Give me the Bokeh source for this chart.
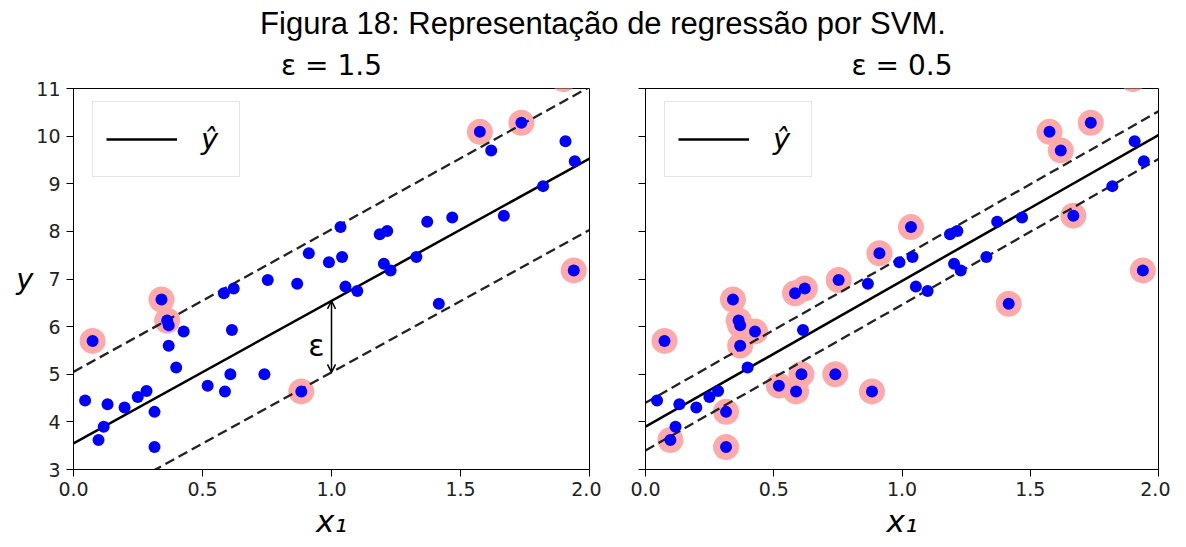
from bokeh.plotting import figure
from bokeh.models import (Range1d, FixedTicker, Label, Arrow, OpenHead, Div,
                          Legend, LegendItem, CustomJSTickFormatter,
                          PrintfTickFormatter)
from bokeh.layouts import column, row
from bokeh.embed import file_html
from bokeh.resources import INLINE

# ---------------- data ----------------
x1 = [0.045, 0.074, 0.097, 0.117, 0.132, 0.198, 0.249, 0.283, 0.314, 0.314,
      0.341, 0.363, 0.369, 0.369, 0.398, 0.427, 0.520, 0.587, 0.583, 0.608,
      0.614, 0.621, 0.740, 0.753, 0.867, 0.883, 0.912, 0.990, 1.035, 1.041,
      1.054, 1.100, 1.187, 1.203, 1.216, 1.229, 1.329, 1.371, 1.416, 1.468,
      1.575, 1.619, 1.668, 1.736, 1.820, 1.907, 1.943, 1.939, 1.900]
y = [4.45, 5.70, 3.62, 3.90, 4.37, 4.30, 4.52, 4.65, 3.47, 4.21,
     6.57, 6.13, 6.03, 5.60, 5.14, 5.90, 4.76, 4.64, 6.70, 5.00,
     5.93, 6.80, 5.00, 6.98, 6.90, 4.64, 7.54, 7.35, 8.09, 7.46,
     6.84, 6.75, 7.94, 7.32, 8.01, 7.18, 7.46, 8.20, 6.48, 8.29,
     10.09, 9.70, 8.33, 10.28, 8.95, 9.89, 9.47, 7.18, 11.20]

# support vectors (highlighted points), 0-based indexes
sv_eps15 = [1, 10, 11, 25, 40, 43, 47, 48]
sv_eps05 = [1, 2, 8, 9, 10, 11, 12, 13, 15, 16, 17, 18, 19, 21, 22, 23,
            25, 26, 28, 38, 40, 41, 42, 43, 47, 48]

# fitted models: intercept, slope, epsilon
models = [
    {"b": 3.55, "w": 2.99, "eps": 1.5, "title": "ε = 1.5", "sv": sv_eps15},
    {"b": 3.90, "w": 3.06, "eps": 0.5, "title": "ε = 0.5", "sv": sv_eps05},
]
x_lim = [0.0, 2.0]
y_lim = [3.0, 11.0]
x_ticks = [0.0, 0.5, 1.0, 1.5, 2.0]
y_ticks = [3, 4, 5, 6, 7, 8, 9, 10, 11]
suptitle = "Figura 18: Representação de regressão por SVM."

FONT = "DejaVu Sans"
FRAME_H = 381


def make_plot(m, first):
    bl = 73 if first else 44
    width = bl + 516 + 12 if first else bl + 513 + 12
    p = figure(width=width, height=48 + FRAME_H + 76, output_backend="svg",
               toolbar_location=None,
               x_range=Range1d(*x_lim), y_range=Range1d(*y_lim),
               min_border_left=bl, min_border_right=12,
               min_border_top=48, min_border_bottom=76)
    p.grid.visible = False
    p.outline_line_color = "black"
    p.outline_line_width = 1
    p.background_fill_color = "white"
    p.border_fill_color = "white"

    p.title.text = m["title"]
    p.title.align = "center"
    p.title.text_font = FONT
    p.title.text_font_size = "28px"
    p.title.text_font_style = "normal"
    p.title.text_color = "black"
    p.title.standoff = 13

    for ax in (p.xaxis[0], p.yaxis[0]):
        ax.major_tick_out = 7
        ax.major_tick_in = 0
        ax.minor_tick_out = 0
        ax.minor_tick_in = 0
        ax.axis_line_color = "black"
        ax.major_tick_line_color = "black"
        ax.major_label_text_font = FONT
        ax.major_label_text_font_size = "19px"
        ax.major_label_text_color = "#222222"
        ax.major_label_standoff = 5
    p.yaxis.major_label_standoff = 6
    p.xaxis.ticker = FixedTicker(ticks=x_ticks)
    p.yaxis.ticker = FixedTicker(ticks=y_ticks)
    p.xaxis.formatter = PrintfTickFormatter(format="%.1f")
    p.xaxis.axis_label = "x₁"
    p.xaxis.axis_label_text_font = FONT
    p.xaxis.axis_label_text_font_size = "31px"
    p.xaxis.axis_label_text_font_style = "italic"
    p.xaxis.axis_label_text_color = "black"
    p.xaxis.axis_label_standoff = 4
    if first:
        yax = p.yaxis[0]
        yax.axis_label = "y"
        yax.axis_label_text_font = FONT
        yax.axis_label_text_font_size = "29px"
        yax.axis_label_text_font_style = "italic"
        yax.axis_label_text_color = "black"
        yax.axis_label_standoff = 0
        if "axis_label_orientation" in yax.properties():
            yax.axis_label_orientation = "horizontal"
    else:
        p.yaxis.formatter = CustomJSTickFormatter(code="return ''")

    # highlighted support vectors
    sx = [x1[i] for i in m["sv"]]
    sy = [y[i] for i in m["sv"]]
    p.scatter(sx, sy, size=26, fill_color="#FFAAAA", line_color=None)

    # model lines
    xl = x_lim
    yl = [m["b"] + m["w"] * v for v in xl]
    up = [v + m["eps"] for v in yl]
    dn = [v - m["eps"] for v in yl]
    r_main = p.line(xl, yl, line_color="black", line_width=2.5)
    p.line(xl, up, line_color="#222222", line_width=2.3, line_dash="10 5")
    p.line(xl, dn, line_color="#222222", line_width=2.3, line_dash="10 5")

    # data points
    p.scatter(x1, y, size=12, fill_color="#0000FF", line_color=None)

    legend = Legend(items=[LegendItem(label="ŷ", renderers=[r_main])],
                    location=(19, FRAME_H - 15 - 74))
    legend.label_text_font = FONT
    legend.label_text_font_style = "italic"
    legend.label_text_font_size = "29px"
    legend.label_text_color = "black"
    legend.glyph_width = 71
    legend.glyph_height = 48
    legend.label_height = 48
    legend.label_width = 25
    legend.label_standoff = 24
    legend.padding = 13
    legend.margin = 0
    legend.border_line_color = "#cccccc"
    legend.border_line_width = 1.2
    legend.background_fill_alpha = 0.8
    p.add_layout(legend)

    if first:
        ex = 1.0
        ep = m["b"] + m["w"] * ex
        p.add_layout(Arrow(x_start=ex, y_start=ep - m["eps"], x_end=ex, y_end=ep,
                           start=OpenHead(size=8, line_width=1.5, line_color="black"),
                           end=OpenHead(size=8, line_width=1.5, line_color="black"),
                           line_width=1.5, line_color="black"))
        p.add_layout(Label(x=0.91, y=5.6, text="ε", text_font=FONT,
                           text_font_size="30px", text_color="black",
                           text_baseline="alphabetic"))
    return p


p1 = make_plot(models[0], True)
p2 = make_plot(models[1], False)

title_div = Div(text=suptitle, width=1130, height=32, margin=(8, 0, 0, 38),
                styles={"font-family": "'Liberation Sans', Arial, sans-serif",
                        "font-size": "31px", "text-align": "center",
                        "color": "black", "line-height": "32px",
                        "white-space": "nowrap"})

layout = column(title_div, row(p1, p2))
open("out.html", "w").write(file_html(layout, INLINE))
